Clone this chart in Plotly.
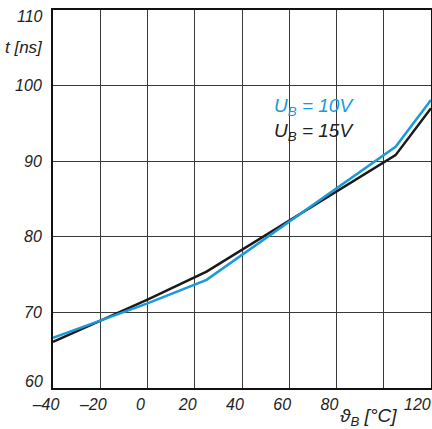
import plotly.graph_objects as go

temps_10v = [-40, 0, 25, 105, 120]
t_10v = [66.65, 71.2, 74.3, 91.9, 98.1]
temps_15v = [-40, 0, 25, 105, 120]
t_15v = [66.1, 71.7, 75.4, 90.8, 97.0]

x_ticks = [-40, -20, 0, 20, 40, 60, 80, 100, 120]
x_ticktext = ["–40", "–20", "0", "20", "40", "60", "80", "", "120\u00a0\u00a0\u00a0"]
y_ticks = [60, 70, 80, 90, 100, 110]
y_ticktext = ["", "70", "80", "90", "100", ""]

BLUE = "#1a9ad8"
FONT = "Liberation Sans Narrow, Liberation Sans, Arial, sans-serif"
TXT = "#222"

fig = go.Figure()
fig.add_trace(go.Scatter(x=temps_15v, y=t_15v, mode="lines",
                         line=dict(color="#1a1a1a", width=2.5), showlegend=False))
fig.add_trace(go.Scatter(x=temps_10v, y=t_10v, mode="lines",
                         line=dict(color=BLUE, width=2.5), showlegend=False))

axis_common = dict(showgrid=True, gridcolor="#3a3a3a", gridwidth=1,
                   zeroline=False, showline=True, linecolor="#111", linewidth=2,
                   mirror=True, ticks="", fixedrange=True, automargin=False,
                   ticklabeloverflow="allow",
                   tickfont=dict(family=FONT, size=16, color=TXT, style="italic"))

fig.update_xaxes(range=[-40, 120], tickvals=x_ticks, ticktext=x_ticktext,
                 ticklabelshift=-7, ticklabelstandoff=1, **axis_common)
fig.update_yaxes(range=[60, 110], tickvals=y_ticks, ticktext=y_ticktext,
                 ticklabelstandoff=6, **axis_common)

# end labels of y axis, nudged inward as in the reference
fig.add_annotation(x=-0.021, y=60.9, xref="paper", yref="y", xanchor="right", yanchor="middle",
                   text="60", showarrow=False,
                   font=dict(family=FONT, size=16, color=TXT, style="italic"))
fig.add_annotation(x=-0.021, y=109.2, xref="paper", yref="y", xanchor="right", yanchor="middle",
                   text="110", showarrow=False,
                   font=dict(family=FONT, size=16, color=TXT, style="italic"))

fig.add_annotation(x=80.8, y=-0.076, xref="x", yref="paper", xanchor="left", yanchor="middle",
                   text="ϑ<sub>B</sub> [°C]", showarrow=False,
                   font=dict(family=FONT, size=19, color=TXT, style="italic"))
fig.add_annotation(x=-0.021, y=105.1, xref="paper", yref="y", xanchor="right", yanchor="middle",
                   text="t [ns]", showarrow=False,
                   font=dict(family=FONT, size=17, color=TXT, style="italic"))
fig.add_annotation(x=52.5, y=97.2, xref="x", yref="y", xanchor="left", yanchor="middle",
                   text="U<sub>B</sub> = 10V", showarrow=False,
                   font=dict(family=FONT, size=19, color=BLUE, style="italic"))
fig.add_annotation(x=52.5, y=93.9, xref="x", yref="y", xanchor="left", yanchor="middle",
                   text="U<sub>B</sub> = 15V", showarrow=False,
                   font=dict(family=FONT, size=19, color=TXT, style="italic"))

fig.update_layout(width=432, height=429, margin=dict(l=53, r=1, t=10, b=41),
                  plot_bgcolor="white", paper_bgcolor="white")

fig.write_html("out.html", config={"displayModeBar": False},
               post_script="document.body.style.margin='0';document.body.style.overflow='hidden';")
